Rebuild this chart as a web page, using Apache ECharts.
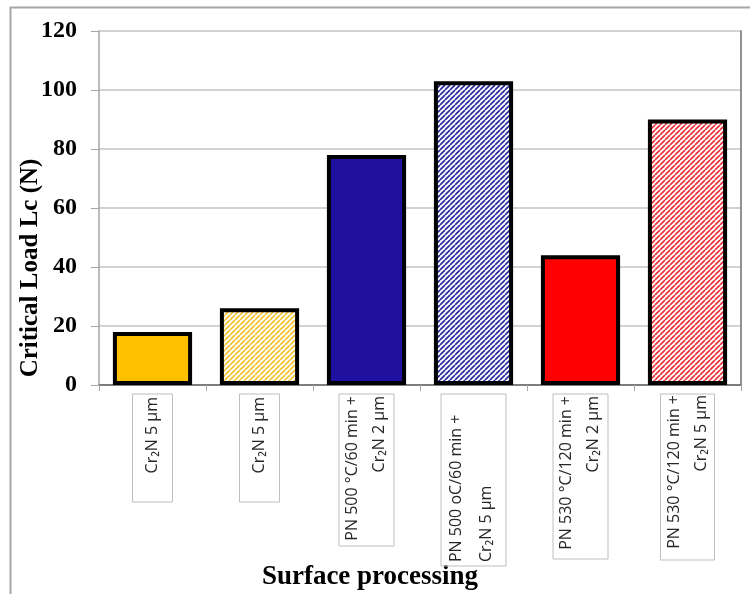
<!DOCTYPE html>
<html>
<head>
<meta charset="utf-8">
<script src="https://cdn.jsdelivr.net/npm/echarts@6/dist/echarts.min.js"></script>
<style>
  html, body { margin: 0; padding: 0; background: #fff; }
  #chart { width: 750px; height: 594px; }
</style>
</head>
<body>
<div id="chart"></div>
<script>
// Coating / surface processing variants (two-line labels use \n)
const categories = [
  'Cr₂N 5 µm',
  'Cr₂N 5 µm',
  'PN 500 °C/60 min +\nCr₂N 2 µm',
  'PN 500 oC/60 min +\nCr₂N 5 µm',
  'PN 530 °C/120 min +\nCr₂N 2 µm',
  'PN 530 °C/120 min +\nCr₂N 5 µm'
];
// Critical load Lc (N)
const criticalLoad = [18, 26, 78, 103, 44, 90];
const yTicks = { min: 0, max: 120, step: 20 };

// Bar fills: solid or hatched, per variant
const fills = [
  { color: '#FFC000', hatch: false },
  { color: '#F2C230', hatch: true },
  { color: '#2010A0', hatch: false },
  { color: '#2A2A9C', hatch: true },
  { color: '#FF0000', hatch: false },
  { color: '#E8323A', hatch: true }
];

// Label box geometry in the label's own (unrotated) frame:
// padding [top, right, bottom, left], content width, line height, line alignment
const labelBoxes = [
  { width: 102, lineHeight: 40, padding: [0, 3, 0, 3], align: 'right' },
  { width: 102, lineHeight: 40, padding: [0, 3, 0, 3], align: 'right' },
  { width: 148, lineHeight: 27, padding: [0, 2, 1, 2], align: 'right' },
  { width: 154, lineHeight: 30, padding: [0, 14, 5, 4], align: 'left' },
  { width: 154, lineHeight: 27, padding: [0, 2, 1, 9], align: 'right' },
  { width: 154, lineHeight: 27, padding: [0, 1, 0, 11], align: 'right' }
];

function makeHatch(color) {
  const size = 5;
  const c = document.createElement('canvas');
  c.width = size; c.height = size;
  const ctx = c.getContext('2d');
  ctx.fillStyle = '#ffffff';
  ctx.fillRect(0, 0, size, size);
  ctx.strokeStyle = color;
  ctx.lineWidth = 1.7;
  for (let o = -size; o <= size; o += size) {
    ctx.beginPath();
    ctx.moveTo(o, size);
    ctx.lineTo(o + size, 0);
    ctx.stroke();
  }
  return { image: c, repeat: 'repeat' };
}

const barData = criticalLoad.map((v, i) => ({
  value: v,
  itemStyle: {
    color: fills[i].hatch ? makeHatch(fills[i].color) : fills[i].color
  }
}));

const xData = categories.map((c, i) => ({
  value: c,
  textStyle: {
    width: labelBoxes[i].width,
    lineHeight: labelBoxes[i].lineHeight,
    padding: labelBoxes[i].padding
  }
}));

const serif = '"Liberation Serif", "Times New Roman", serif';
const sans = '"Open Sans", "DejaVu Sans", sans-serif';

const chart = echarts.init(document.getElementById('chart'), null, { renderer: 'canvas' });
chart.setOption({
  animation: false,
  backgroundColor: '#ffffff',
  graphic: [{
    type: 'polyline',
    shape: { points: [[10.5, 600], [10.5, 7.5], [760, 7.5]] },
    style: { stroke: '#a6a6a6', lineWidth: 2, fill: null },
    silent: true
  }],
  grid: { left: 99, right: 9, top: 31, bottom: 209, outerBoundsMode: 'none' },
  xAxis: [{
    type: 'category',
    data: xData,
    name: 'Surface processing',
    nameLocation: 'middle',
    nameGap: 179,
    nameMoveOverlap: false,
    nameTextStyle: {
      fontFamily: serif, fontWeight: 'bold', fontSize: 27, color: '#000',
      padding: [0, 100, 0, 0]
    },
    axisLine: { lineStyle: { color: '#a6a6a6', width: 1.5 } },
    axisTick: { show: true, length: 6, lineStyle: { color: '#a6a6a6' }, alignWithLabel: false },
    axisLabel: {
      interval: 0,
      rotate: 90,
      margin: 9,
      fontFamily: sans,
      fontSize: 16,
      color: '#262626',
      borderColor: '#bfbfbf',
      borderWidth: 1,
      formatter: function (value, idx) {
        const a = labelBoxes[idx].align === 'left' ? 'l' : 'r';
        return value.split('\n').map(s => '{' + a + '|' + s + '}').join('\n');
      },
      rich: {
        l: { align: 'left' },
        r: { align: 'right' }
      }
    },
    splitLine: { show: false }
  }, {
    type: 'category',
    position: 'top',
    data: categories,
    axisLine: { lineStyle: { color: '#6e6e6e', width: 1.5 } },
    axisTick: { show: false },
    axisLabel: { show: false }
  }],
  yAxis: [{
    type: 'value',
    min: yTicks.min,
    max: yTicks.max,
    interval: yTicks.step,
    name: 'Critical Load Lc (N)',
    nameLocation: 'middle',
    nameGap: 56,
    nameMoveOverlap: false,
    nameTextStyle: {
      fontFamily: serif, fontWeight: 'bold', fontSize: 25, color: '#000',
      padding: [0, 120, 0, 0]
    },
    axisLine: { show: true, lineStyle: { color: '#a6a6a6', width: 1.5 } },
    axisTick: { show: true, length: 8, lineStyle: { color: '#a6a6a6' } },
    axisLabel: {
      margin: 22,
      fontFamily: serif, fontWeight: 'bold', fontSize: 24, color: '#000'
    },
    splitLine: { lineStyle: { color: '#c4c4c4', width: 1.5 } }
  }, {
    type: 'value',
    position: 'right',
    min: yTicks.min,
    max: yTicks.max,
    interval: yTicks.step,
    axisLine: { show: true, lineStyle: { color: '#6e6e6e', width: 1.5 } },
    axisTick: { show: false },
    axisLabel: { show: false },
    splitLine: { show: false }
  }],
  series: [{
    type: 'bar',
    data: barData,
    barWidth: '74%',
    itemStyle: { borderColor: '#000', borderWidth: 4 }
  }]
});
</script>
</body>
</html>
